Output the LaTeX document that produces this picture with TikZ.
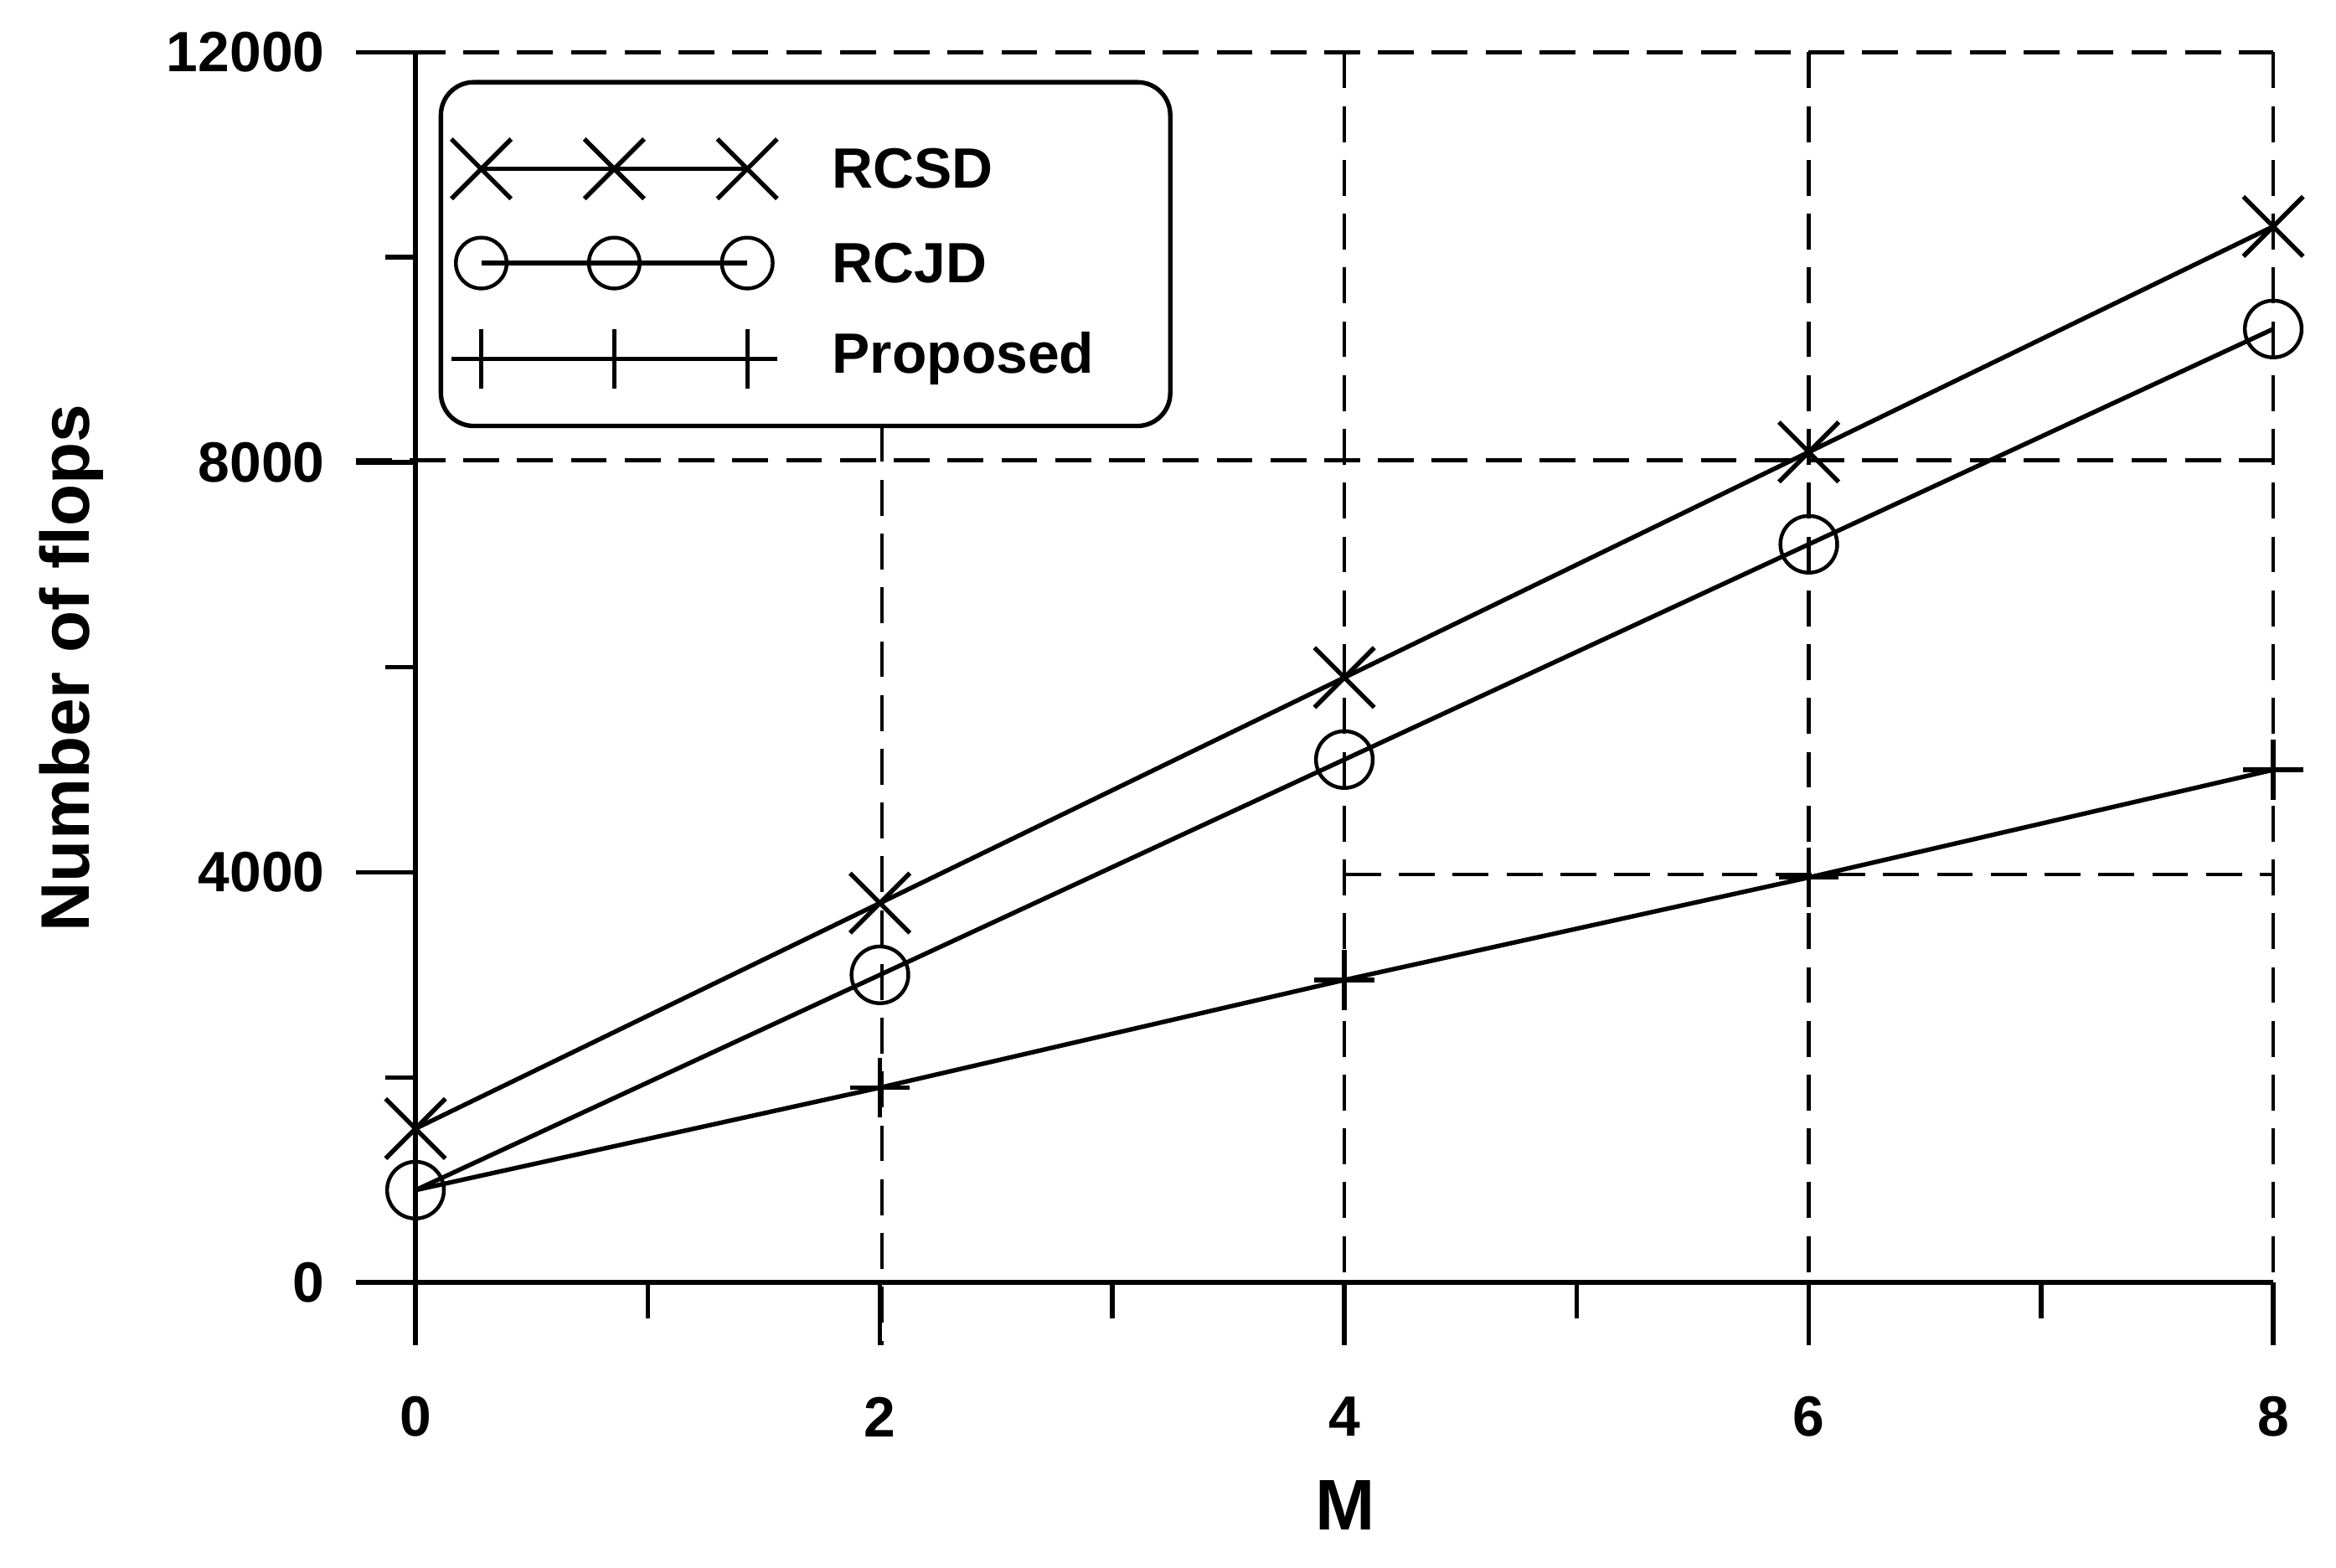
\documentclass[tikz,border=0pt]{standalone}
\usepackage{fontspec}
\setmainfont{Liberation Sans}
\begin{document}
\begin{tikzpicture}[x=1pt,y=-1pt,line width=3pt,
  dsh/.style={dashed,dash pattern=on 24pt off 12pt,line width=2.5pt},
  lab/.style={font=\fontsize{38}{40}\selectfont\bfseries},
  xm/.style={insert path={++(-20,-20) -- ++(40,40) ++(0,-40) -- ++(-40,40) ++(20,-20)}},
  pm/.style={insert path={++(-20,0) -- ++(40,0) ++(-20,-20) -- ++(0,40) ++(0,-20)}}]
\useasboundingbox (0,0) rectangle (1563,1049);
\def\X#1{278+155.375*#1}
\def\Y#1{858-0.068583*#1}
% grid
\draw[dsh] (238,35) -- (1521,35);
\draw[dsh] (238,308) -- (1521,308);
\draw[dsh] (900,585) -- (1521,585);
\draw[dsh] (590,285) -- (590,900);
\foreach \i in {4,6,8} \draw[dsh] ({\X{\i}},35) -- ({\X{\i}},900);
% axes
\draw (278,35) -- (278,900);
\draw (238,858) -- (1521,858);
\foreach \v in {0,4000,8000,12000} {
  \draw (238,{\Y{\v}}) -- (278,{\Y{\v}});
  \node[lab,anchor=east] at (222,{\Y{\v}}) {\v};}
\foreach \v in {2000,6000,10000} \draw (258,{\Y{\v}}) -- (278,{\Y{\v}});
\foreach \i in {1,3,5,7} \draw ({\X{\i}},858) -- ({\X{\i}},882);
\foreach \i in {0,2,4,6,8} {\draw ({\X{\i}},858) -- ({\X{\i}},900);
  \node[lab] at ({\X{\i}},948) {\i};}
\node[font=\fontsize{48}{50}\selectfont\bfseries] at (900,1007) {M};
\node[font=\fontsize{46}{48}\selectfont\bfseries,rotate=90] at (48,447) {Number of flops};
% data
\draw ({\X0},{\Y{1500}}) -- ({\X2},{\Y{3700}}) -- ({\X4},{\Y{5900}}) -- ({\X6},{\Y{8100}}) -- ({\X8},{\Y{10300}});
\foreach \i/\v in {0/1500,2/3700,4/5900,6/8100,8/10300} \draw ({\X{\i}},{\Y{\v}}) [xm];
\draw ({\X0},{\Y{900}}) -- ({\X2},{\Y{3000}}) -- ({\X4},{\Y{5100}}) -- ({\X6},{\Y{7200}}) -- ({\X8},{\Y{9300}});
\foreach \i/\v in {0/900,2/3000,4/5100,6/7200,8/9300} \draw[line width=2.5pt] ({\X{\i}},{\Y{\v}}) circle (19);
\draw ({\X0},{\Y{900}}) -- ({\X2},{\Y{1900}}) -- ({\X4},{\Y{2950}}) -- ({\X6},{\Y{3950}}) -- ({\X8},{\Y{5000}});
\foreach \i/\v in {2/1900,4/2950,6/3950,8/5000} \draw ({\X{\i}},{\Y{\v}}) [pm];
% legend
\draw[fill=white,rounded corners=22pt] (295,55) rectangle (783,285);
\draw (322,113) -- (500,113); \foreach \p in {322,411,500} \draw (\p,113) [xm];
\draw (322,176) -- (500,176); \foreach \p in {322,411,500} \draw[line width=2.5pt,fill=white] (\p,176) circle (17);
\draw (322,176) -- (500,176);
\draw (322,240) -- (500,240); \foreach \p in {322,411,500} \draw (\p,240) [pm];
\node[lab,anchor=west] at (552,113) {RCSD};
\node[lab,anchor=west] at (552,176) {RCJD};
\node[lab,anchor=west] at (552,240) {Proposed};
\end{tikzpicture}
\end{document}
